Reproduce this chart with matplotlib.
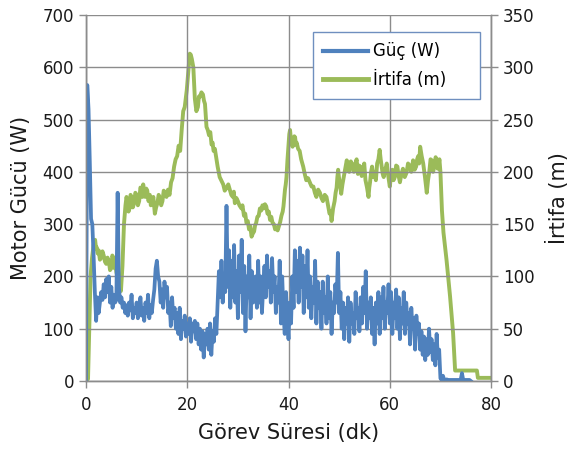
import numpy as np
import matplotlib
matplotlib.use("Agg")
import matplotlib.pyplot as plt
from matplotlib.lines import Line2D

# Motor power (W), logged every 0.25 min
power_step = 0.25
power = [
    0, 566, 520, 420, 310, 300, 240, 170,
    115, 160, 130, 150, 170, 155, 185, 160,
    195, 170, 200, 150, 180, 140, 165, 150,
    155, 360, 180, 150, 160, 140, 150, 130,
    145, 125, 150, 135, 165, 120, 140, 130,
    150, 120, 135, 160, 125, 140, 115, 150,
    130, 165, 120, 145, 130, 155, 175, 215,
    230, 200, 190, 150, 175, 140, 190, 160,
    180, 130, 150, 105, 160, 120, 140, 100,
    130, 90, 140, 80, 115, 100, 125, 85,
    110, 90, 120, 75, 110, 95, 115, 80,
    110, 70, 100, 60, 95, 45, 90, 70,
    100, 60, 110, 50, 95, 75, 120, 90,
    150, 210, 160, 230, 150, 200, 170, 335,
    180, 250, 140, 230, 160, 260, 150, 210,
    120, 240, 170, 270, 130, 220, 95, 200,
    160, 240, 120, 210, 150, 180, 200, 140,
    230, 150, 200, 130, 180, 220, 160, 240,
    180, 210, 150, 235, 170, 200, 130, 180,
    150, 230, 110, 200, 130, 90, 170, 120,
    80, 150, 110, 200, 140, 250, 170, 230,
    150, 255, 180, 240, 130, 220, 160, 250,
    140, 200, 120, 180, 150, 230, 110, 190,
    140, 170, 100, 190, 130, 160, 110, 200,
    120, 170, 90, 150, 130, 185, 150, 245,
    130, 170, 100, 150, 80, 140, 110, 160,
    75, 150, 110, 130, 90, 170, 120, 140,
    95, 160, 110, 180, 130, 210, 100, 150,
    120, 160, 90, 140, 70, 150, 110, 170,
    90, 160, 120, 180, 100, 150, 130, 185,
    110, 170, 90, 150, 120, 175, 100, 160,
    80, 140, 110, 170, 90, 150, 110, 130,
    70, 140, 100, 120, 60, 125, 90, 110,
    60, 95, 50, 85, 40, 80, 50, 100,
    55, 80, 40, 70, 30, 90, 45, 60,
    5, 2, 10, 2, 2, 3, 2, 2,
    2, 2, 2, 2, 2, 2, 2, 2,
    2, 15, 2, 2, 2, 2, 2, 2,
    0,
]
power_time = np.arange(len(power)) * power_step

# Altitude (m)
alt_time = [
    0, 0.4, 0.7, 0.9, 1.2, 1.5, 1.8, 2.0, 2.1, 2.3, 2.5, 2.75, 3.0, 3.25, 3.5,
    3.75, 4.0, 4.25, 4.5, 4.75, 5.0, 5.2, 5.4, 5.6, 5.8, 6.0, 6.2, 6.4, 6.6,
    6.9, 7.2, 7.5,
    7.8, 8.0, 8.2, 8.4, 8.6, 8.8, 9.0, 9.25, 9.5, 9.75, 10.0, 10.25, 10.5,
    10.75, 11.0, 11.15, 11.3, 11.5, 11.7, 11.9, 12.1, 12.35, 12.6, 12.8, 13.0,
    13.3, 13.6, 13.85, 14.1, 14.35, 14.6, 14.85, 15.1, 15.35, 15.6, 15.9,
    16.2, 16.5, 16.8, 17.1,
    17.4, 17.7, 18.0, 18.3, 18.6, 18.9, 19.2, 19.5, 19.9, 20.2, 20.5, 20.7,
    20.9, 21.2, 21.35, 21.5, 21.8, 22.1, 22.3, 22.5, 22.8, 23.1, 23.3, 23.5,
    23.8, 24.05, 24.3, 24.55, 24.8, 25.0, 25.2, 25.45, 25.7, 26.0, 26.2,
    26.4, 26.7, 27.1, 27.4, 27.8, 28.1, 28.4, 28.7, 29.0, 29.2, 29.4, 29.7,
    30.0, 30.3, 30.7, 30.9, 31.2, 31.45, 31.7, 31.95, 32.2, 32.45, 32.7,
    32.95, 33.2, 33.4, 33.6, 33.85, 34.1, 34.35, 34.6, 34.85, 35.1, 35.35,
    35.6, 35.85, 36.1, 36.35, 36.6, 36.85, 37.1, 37.35, 37.6, 37.85, 38.1,
    38.35,
    38.6, 38.85, 39.0, 39.15, 39.3, 39.45, 39.6, 39.8, 40.0, 40.15, 40.3,
    40.45, 40.6, 40.8, 41.0, 41.15, 41.3, 41.45,
    41.6, 41.9, 42.2, 42.5, 42.9, 43.2, 43.5, 43.85, 44.2, 44.55, 44.9, 45.2,
    45.5, 45.85, 46.2, 46.5, 46.8, 47.15, 47.5, 47.8, 48.1, 48.3, 48.5, 48.8,
    49.1, 49.3, 49.5, 49.65, 49.8, 49.95, 50.1, 50.25, 50.4, 50.65, 50.9,
    51.2, 51.5, 51.75, 52.0, 52.3, 52.6, 52.9, 53.2, 53.45, 53.7, 53.95,
    54.2, 54.45, 54.7, 54.95, 55.2, 55.5, 55.8, 55.95, 56.1, 56.3, 56.5,
    56.75, 57.0, 57.25, 57.5, 57.75, 58.0, 58.2, 58.4, 58.6, 58.8, 59.1,
    59.4, 59.7, 60.0, 60.25, 60.5, 60.75, 61.0, 61.25, 61.5, 61.75, 62.0,
    62.3, 62.6, 62.95, 63.3, 63.6, 63.9, 64.25, 64.6, 64.9, 65.2, 65.4,
    65.6, 65.8, 66.0, 66.3, 66.6, 66.95, 67.3, 67.55, 67.8, 68.05, 68.3,
    68.55, 68.8, 69.05, 69.3, 69.45, 69.6, 69.8,
    70.0, 70.3, 70.6, 71.2, 71.9, 72.5, 72.9, 77.2, 77.4, 80.0,
]
altitude = [
    0, 2, 60, 100, 118, 130, 135, 126, 128, 122, 125, 116, 118, 124, 120,
    114, 112, 118, 115, 106, 108, 120, 118, 108, 112, 104, 100, 94, 90,
    86, 110, 150,
    168, 176, 172, 162, 165, 178, 176, 166, 170, 180, 178, 168, 172,
    185, 183, 176, 188, 180, 176, 184, 182, 172, 178, 168, 170,
    176, 160, 166, 170, 178, 175, 168, 172, 182, 180, 176,
    183, 178, 190, 194,
    205, 212, 215, 225, 220, 240, 258, 262, 278, 295, 313, 312,
    308, 300, 285, 270, 258, 262, 272, 272, 276, 274, 268, 265,
    243, 240, 235, 238, 226, 228, 220, 222, 214, 205, 200,
    195, 192, 188, 182, 185, 188, 183, 178, 176, 181, 170, 175,
    172, 168, 165, 168, 158, 160, 151, 153, 145, 148, 138,
    141, 143, 149, 151, 157, 158, 165, 163, 168, 165, 169,
    167, 160, 162, 154, 157, 151, 150, 145, 147, 144, 148,
    152,
    158, 162, 167, 175, 183, 188, 195, 212, 225, 236, 240,
    232, 232, 224, 227, 234, 233, 226,
    228, 222, 220, 212, 205, 198, 192, 194, 190, 186, 186, 180,
    176, 183, 180, 175, 172, 178, 176, 168, 160, 162, 153, 165,
    172, 180, 185, 195, 202, 195, 190, 185, 179, 188, 195,
    203, 211, 202, 200, 210, 207, 200, 208, 212, 198, 206,
    205, 196, 200, 208, 192, 185, 176, 185, 190, 200, 205,
    195, 200, 192, 208, 212, 221, 212, 205, 198, 195, 202,
    208, 196, 186, 196, 202, 192, 195, 206, 205, 196, 190,
    198, 203, 195, 199, 208, 206, 200, 211, 202, 205, 212,
    215, 208, 224, 215, 208, 195, 180, 192, 200, 212, 211,
    200, 205, 214, 211, 203, 205, 212,
    200, 163, 142, 116, 81, 46, 10, 10, 3, 3,
]

power_ticks = list(range(0, 701, 100))
alt_ticks = list(range(0, 351, 50))
time_ticks = [0, 20, 40, 60, 80]

BLUE = "#4F81BD"
GREEN = "#9BBB59"
GRID = "#8C8C8C"
TEXT = "#1a1a1a"

plt.rcParams["font.family"] = ["DejaVu Sans"]

fig = plt.figure(figsize=(5.71, 4.54), dpi=100)
ax = fig.add_axes([0.1506, 0.1608, 0.7094, 0.8062])
ax2 = ax.twinx()

# Power on top of altitude
ax.set_zorder(ax2.get_zorder() + 1)
ax.patch.set_visible(False)

ax.plot(power_time, power, color=BLUE, lw=2.7, solid_joinstyle="round")
ax2.plot(alt_time, altitude, color=GREEN, lw=2.8, solid_joinstyle="round")

ax.set_xlim(0, 80)
ax.set_ylim(0, 700)
ax2.set_ylim(0, 350)
ax.set_xticks(time_ticks)
ax.set_yticks(power_ticks)
ax2.set_yticks(alt_ticks)

ax2.grid(False)
ax.grid(True, color=GRID, lw=1.0)
ax.set_axisbelow(True)

for a in (ax, ax2):
    for s in a.spines.values():
        s.set_color(GRID)
        s.set_linewidth(1.0)
    a.tick_params(colors=GRID, labelcolor=TEXT, labelsize=12, length=5, width=1)
ax.spines["top"].set_visible(False)
ax2.spines["top"].set_visible(False)
ax.tick_params(axis="x", pad=6)

ax.set_xlabel("Görev Süresi (dk)", fontsize=15, color=TEXT, labelpad=6)
ax.set_ylabel("Motor Gücü (W)", fontsize=15, color=TEXT, labelpad=8)
ax2.set_ylabel("İrtifa (m)", fontsize=15, color=TEXT, rotation=90, labelpad=8)

handles = [Line2D([], [], color=BLUE, lw=3), Line2D([], [], color=GREEN, lw=3.5)]
leg = ax.legend(handles, ["Güç (W)", "İrtifa (m)"], loc="center",
                bbox_to_anchor=(0.56, 0.773, 0.413, 0.178), mode="expand",
                fontsize=12, frameon=True, fancybox=False, handlelength=2.7,
                handletextpad=0.3, borderpad=0.6, labelspacing=0.6,
                borderaxespad=0)
leg.get_frame().set_edgecolor("#6F8FBF")
leg.get_frame().set_linewidth(1.0)
leg.get_frame().set_facecolor("white")
leg.get_frame().set_alpha(1)

fig.savefig("out.png", dpi=100)
